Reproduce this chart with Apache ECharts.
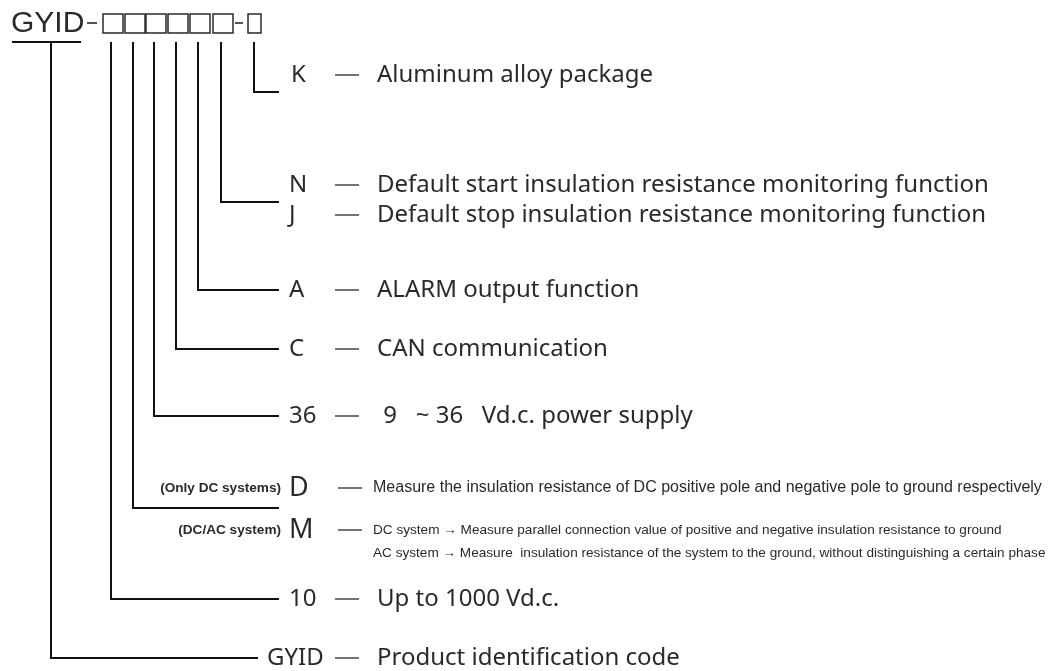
<!DOCTYPE html>
<html>
<head>
<meta charset="utf-8">
<title>GYID model code</title>
<script src="https://cdn.jsdelivr.net/npm/echarts@6/dist/echarts.min.js"></script>
<style>
  html, body { margin: 0; padding: 0; background: #fff; }
  #main { width: 1054px; height: 671px; }
</style>
</head>
<body>
<div id="main"></div>
<script>
// header code: fixed prefix and the slot stems under the boxes
const prefix = 'GYID';
const slotX = [111, 133, 154, 176, 198, 221, 254];

// branch lines: stem x, level of the horizontal arm, where the arm stops
const stemX = [254, 221, 198, 176, 154, 133, 111, 51];
const armY = [92, 202, 290, 349, 416, 508, 599, 658];
const armEnd = [279, 279, 279, 279, 279, 279, 279, 258];

// label rows
const codes = ['K', 'N', 'J', 'A', 'C', '36', 'D', 'M', '10', 'GYID'];
const codeY = [75, 185, 215, 290, 349, 416, 488, 530, 599, 658];
const notes = ['', '', '', '', '', '', '(Only DC systems)', '(DC/AC system)', '', ''];
const descriptions = [
  ['Aluminum alloy package'],
  ['Default start insulation resistance monitoring function'],
  ['Default stop insulation resistance monitoring function'],
  ['ALARM output function'],
  ['CAN communication'],
  [' 9   ~ 36   Vd.c. power supply'],
  ['Measure the insulation resistance of DC positive pole and negative pole to ground respectively'],
  ['DC system \u2192 Measure parallel connection value of positive and negative insulation resistance to ground',
   'AC system \u2192 Measure  insulation resistance of the system to the ground, without distinguishing a certain phase'],
  ['Up to 1000 Vd.c.'],
  ['Product identification code']
];

const LINE = '#111';
const TEXT = '#2a2a2a';
const MAIN_FONT = '"Noto Sans", "DejaVu Sans", sans-serif';
const SMALL_FONT = '"Liberation Sans", Arial, sans-serif';

const chart = echarts.init(document.getElementById('main'));

function renderHeader(params, api) {
  const p = (x, y) => api.coord([x, y]);
  const children = [];
  const o = p(11, 24);
  children.push({
    type: 'text',
    style: { x: o[0], y: o[1], text: prefix, font: '30px ' + SMALL_FONT, fill: TEXT, verticalAlign: 'middle' }
  });
  const u1 = p(12, 42), u2 = p(81, 42);
  children.push({ type: 'line', shape: { x1: u1[0], y1: u1[1], x2: u2[0], y2: u2[1] }, style: { stroke: LINE, lineWidth: 2 } });
  // hyphens
  [[87, 97], [235, 243]].forEach(function (h) {
    const a = p(h[0], 23), b = p(h[1], 23);
    children.push({ type: 'line', shape: { x1: a[0], y1: a[1], x2: b[0], y2: b[1] }, style: { stroke: TEXT, lineWidth: 1.6 } });
  });
  // boxes
  slotX.forEach(function (sx, i) {
    const last = i === slotX.length - 1;
    const w = last ? 13 : 20;
    const tl = p(last ? sx - 6 : sx - 8, 14);
    const br = p(last ? sx - 6 + w : sx - 8 + w, 33);
    children.push({
      type: 'rect',
      shape: { x: tl[0], y: tl[1], width: br[0] - tl[0], height: br[1] - tl[1] },
      style: { fill: 'none', stroke: TEXT, lineWidth: 1.5 }
    });
  });
  return { type: 'group', children: children };
}

function renderBranch(params, api) {
  const i = params.dataIndex;
  const top = api.coord([stemX[i], 42]);
  const corner = api.coord([stemX[i], armY[i]]);
  const end = api.coord([armEnd[i], armY[i]]);
  return {
    type: 'polyline',
    shape: { points: [top, corner, end] },
    style: { stroke: LINE, lineWidth: 2, fill: 'none' }
  };
}

function renderLabel(params, api) {
  const i = params.dataIndex;
  const small = notes[i] !== '';
  const children = [];
  const codeX = codes[i] === prefix ? 267 : (codes[i] === 'K' ? 291 : 289);
  const c = api.coord([codeX, codeY[i]]);
  children.push({
    type: 'text',
    style: { x: c[0], y: c[1], text: codes[i], font: (small ? '27px ' : '24px ') + MAIN_FONT, fill: TEXT, verticalAlign: 'middle' }
  });
  if (small) {
    const n = api.coord([281, codeY[i]]);
    children.push({
      type: 'text',
      style: { x: n[0], y: n[1], text: notes[i], font: 'bold 13.6px ' + SMALL_FONT, fill: TEXT, align: 'right', verticalAlign: 'middle' }
    });
  }
  const d1 = api.coord([small ? 338 : 335, codeY[i]]);
  const d2 = api.coord([small ? 362 : 359, codeY[i]]);
  children.push({ type: 'line', shape: { x1: d1[0], y1: d1[1], x2: d2[0], y2: d2[1] }, style: { stroke: TEXT, lineWidth: 1.3 } });
  descriptions[i].forEach(function (txt, k) {
    const t = api.coord([small ? 373 : 377, codeY[i] + k * 23]);
    children.push({
      type: 'text',
      style: {
        x: t[0], y: t[1], text: txt,
        font: small ? (descriptions[i].length === 1 ? '16px ' : '13.6px ') + SMALL_FONT : '24px ' + MAIN_FONT,
        fill: TEXT, verticalAlign: 'middle'
      }
    });
  });
  return { type: 'group', children: children };
}

chart.setOption({
  animation: false,
  backgroundColor: '#fff',
  grid: { left: 0, right: 0, top: 0, bottom: 0 },
  xAxis: { type: 'value', min: 0, max: 1054, show: false },
  yAxis: { type: 'value', min: 0, max: 671, inverse: true, show: false },
  series: [
    { type: 'custom', silent: true, renderItem: renderHeader, data: [0] },
    { type: 'custom', silent: true, renderItem: renderBranch, data: stemX.map((x, i) => i) },
    { type: 'custom', silent: true, renderItem: renderLabel, data: codes.map((c, i) => i) }
  ]
});
</script>
</body>
</html>
